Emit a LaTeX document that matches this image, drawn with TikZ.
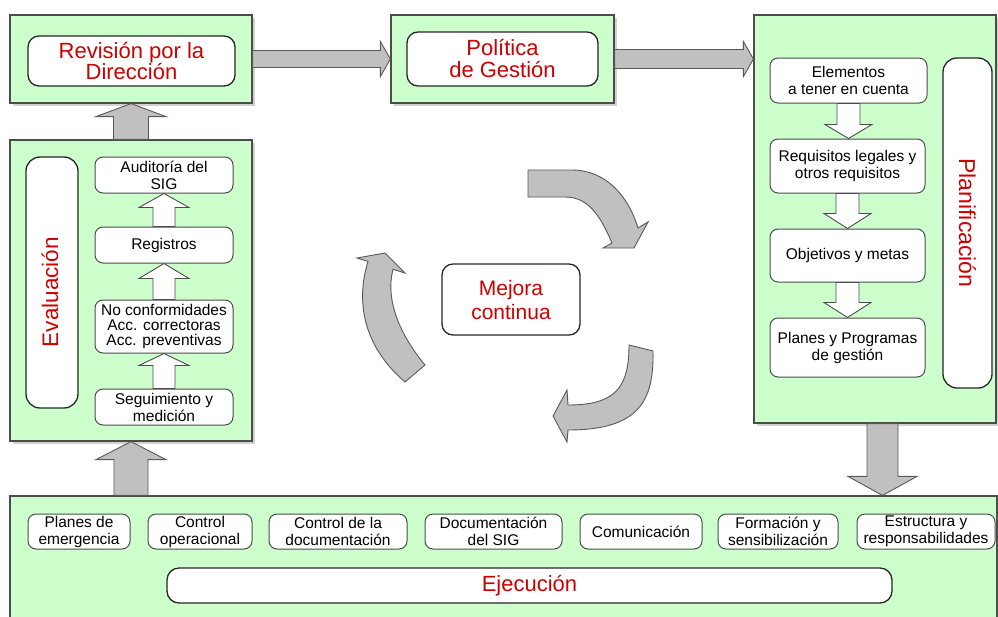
\documentclass[tikz,border=0pt]{standalone}
\usepackage{fontspec}
\setmainfont{Liberation Sans}
\usetikzlibrary{calc,shadows}
\definecolor{gfill}{RGB}{204,255,204}
\definecolor{rtxt}{RGB}{204,0,0}
\definecolor{afill}{RGB}{192,192,192}
\newcommand{\arrowR}[6]{\path[#1] let \p1=#2, \p2=#3 in (\x1,{\y1+#4pt}) -- ({\x2-#6pt},{\y1+#4pt}) -- ({\x2-#6pt},{\y1+#5pt}) -- (\x2,\y1) -- ({\x2-#6pt},{\y1-#5pt}) -- ({\x2-#6pt},{\y1-#4pt}) -- (\x1,{\y1-#4pt}) -- cycle;}
\newcommand{\arrowD}[6]{\path[#1] let \p1=#2, \p2=#3 in ({\x1-#4pt},\y1) -- ({\x1-#4pt},{\y2+#6pt}) -- ({\x1-#5pt},{\y2+#6pt}) -- (\x1,\y2) -- ({\x1+#5pt},{\y2+#6pt}) -- ({\x1+#4pt},{\y2+#6pt}) -- ({\x1+#4pt},\y1) -- cycle;}
\newcommand{\arrowU}[6]{\path[#1] let \p1=#2, \p2=#3 in ({\x1-#4pt},\y1) -- ({\x1-#4pt},{\y2-#6pt}) -- ({\x1-#5pt},{\y2-#6pt}) -- (\x1,\y2) -- ({\x1+#5pt},{\y2-#6pt}) -- ({\x1+#4pt},{\y2-#6pt}) -- ({\x1+#4pt},\y1) -- cycle;}
\tikzset{
  greenbox/.style={rectangle, draw=black!70, line width=1.2pt, fill=gfill, inner sep=0pt,
    drop shadow={shadow xshift=2.5pt, shadow yshift=-2.5pt, opacity=0.18, fill=black}},
  wbox/.style={rectangle, rounded corners=11pt, draw=black!85, line width=1.3pt, fill=white, inner sep=0pt, align=center},
  sbox/.style={rectangle, rounded corners=8pt, draw=black!70, line width=1pt, fill=white, inner sep=0pt, align=center, font=\fontsize{15.5}{17}\selectfont},
  redtext/.style={text=rtxt, font=\fontsize{22}{20}\selectfont},
  garrow/.style={fill=afill, draw=black!65, line width=0.9pt, line join=miter},
  warrow/.style={fill=white, draw=black!70, line width=0.9pt, line join=miter},
}
\begin{document}
\begin{tikzpicture}[x=1pt,y=-1pt]
\clip (0,0) rectangle (998,616);
\fill[white] (0,0) rectangle (998,616);
% green panels
\node[greenbox, minimum width=242pt, minimum height=88pt] (revG) at (131,59) {};
\node[greenbox, minimum width=223pt, minimum height=88pt] (polG) at (502.5,59) {};
\node[greenbox, minimum width=242pt, minimum height=408pt] (planG) at (875,219) {};
\node[greenbox, minimum width=242pt, minimum height=301pt] (evalG) at (131,290.5) {};
\node[greenbox, minimum width=987pt, minimum height=140pt] (ejecG) at (503.5,566) {};
% top boxes
\node[wbox, redtext, font=\fontsize{22}{19}\selectfont, minimum width=207pt, minimum height=50pt] (rev) at (131.5,61) {Revisión por la\\Dirección};
\node[wbox, redtext, font=\fontsize{22}{22}\selectfont, minimum width=191pt, minimum height=54pt] (pol) at (502.5,59) {Política\\de Gestión};
\node[wbox, redtext, font=\fontsize{21}{24}\selectfont, minimum width=138pt, minimum height=71pt] (mej) at (511,299.5) {Mejora\\continua};
% planificacion
\node[sbox, minimum width=157pt, minimum height=45pt] (elem) at (848.5,80.5) {Elementos\\a tener en cuenta};
\node[sbox, minimum width=155pt, minimum height=54pt] (req) at (847.5,166) {Requisitos legales y\\otros requisitos};
\node[sbox, minimum width=155pt, minimum height=53pt] (obj) at (847.5,255.5) {Objetivos y metas};
\node[sbox, minimum width=155pt, minimum height=59pt] (planes) at (847.5,347.5) {Planes y Programas\\de gestión};
\node[wbox, rounded corners=14pt, rotate=-90, redtext, font=\fontsize{23}{23}\selectfont, minimum width=330pt, minimum height=49pt] (planT) at (967.5,223) {Planificación};
% evaluacion
\node[wbox, rounded corners=14pt, minimum width=52pt, minimum height=251pt] (evalT) at (52,282.5) {};
\node[redtext, font=\fontsize{22.5}{22}\selectfont, rotate=90, inner sep=0pt] (evalL) at (50,292) {Evaluación};
\node[sbox, minimum width=138pt, minimum height=36pt] (aud) at (164,175) {Auditoría del\\SIG};
\node[sbox, minimum width=138pt, minimum height=36pt] (reg) at (164,245) {Registros};
\node[sbox, font=\fontsize{15.5}{15}\selectfont, minimum width=138pt, minimum height=53pt] (noconf) at (164,326.5) {No conformidades\\Acc. correctoras\\Acc. preventivas};
\node[sbox, minimum width=138pt, minimum height=36pt] (seg) at (164,407) {Seguimiento y\\medición};
% ejecucion
\node[sbox, minimum width=102pt, minimum height=35pt] (b1) at (79,531.5) {Planes de\\emergencia};
\node[sbox, minimum width=104pt, minimum height=35pt] (b2) at (200,531.5) {Control\\operacional};
\node[sbox, minimum width=138pt, minimum height=35pt] (b3) at (338,531.5) {Control de la\\documentación};
\node[sbox, minimum width=137pt, minimum height=35pt] (b4) at (493.5,531.5) {Documentación\\del SIG};
\node[sbox, minimum width=122pt, minimum height=35pt] (b5) at (641,531.5) {Comunicación};
\node[sbox, minimum width=120pt, minimum height=35pt] (b6) at (778,531.5) {Formación y\\sensibilización};
\node[sbox, minimum width=138pt, minimum height=35pt] (b7) at (926,531.5) {Estructura y\\responsabilidades};
\node[wbox, redtext, rounded corners=12pt, minimum width=725pt, minimum height=35pt] (ejec) at (529.5,585.5) {Ejecución};
% gray block arrows between panels
\arrowR{garrow}{(revG.east)}{(polG.west)}{8.5}{17.5}{10}
\arrowR{garrow}{(polG.east)}{(planG.west |- polG.east)}{9.5}{17.5}{10}
\coordinate (pa) at ($(planG.south)+(7.5,0)$);
\arrowD{garrow}{(pa)}{(pa |- ejecG.north)}{15.5}{34.5}{19}
\arrowU{garrow}{(evalG.north)}{(revG.south)}{17.5}{35}{13}
\arrowU{garrow}{(evalG.south |- ejecG.north)}{(evalG.south)}{17}{35}{18}
% white arrows
\arrowD{warrow}{(elem.south)}{(elem.south |- req.north)}{11.5}{23.5}{14}
\arrowD{warrow}{(req.south)}{(obj.north)}{11.5}{23.5}{15}
\arrowD{warrow}{(obj.south)}{(planes.north)}{11.5}{23.5}{15}
\arrowU{warrow}{(seg.north)}{(noconf.south)}{11}{25}{12}
\arrowU{warrow}{(noconf.north)}{(reg.south)}{11}{25}{15}
\arrowU{warrow}{(reg.north)}{(aud.south)}{11}{25}{14}
% cycle arrows around Mejora continua
\path[garrow] (528,170) -- (572,170) .. controls (605,170) and (628,195) .. (638,228)
  -- (648,222) -- (634,248) -- (603,248) -- (612,243)
  .. controls (600,215) and (588,197) .. (565,197) -- (528,197) -- cycle;
\path[garrow] (629,345) -- (653,351) .. controls (654,400) and (640,430) .. (568,430)
  -- (567,442) -- (553,416) -- (567,390) -- (568,405)
  .. controls (615,405) and (629,388) .. (629,345) -- cycle;
\path[garrow] (405,382) -- (425,365) .. controls (400,335) and (385,300) .. (393,269.3)
  -- (405,273) -- (385,253) -- (357,258) -- (368,261.5)
  .. controls (356,300) and (362,345) .. (405,382) -- cycle;
\end{tikzpicture}
\end{document}
